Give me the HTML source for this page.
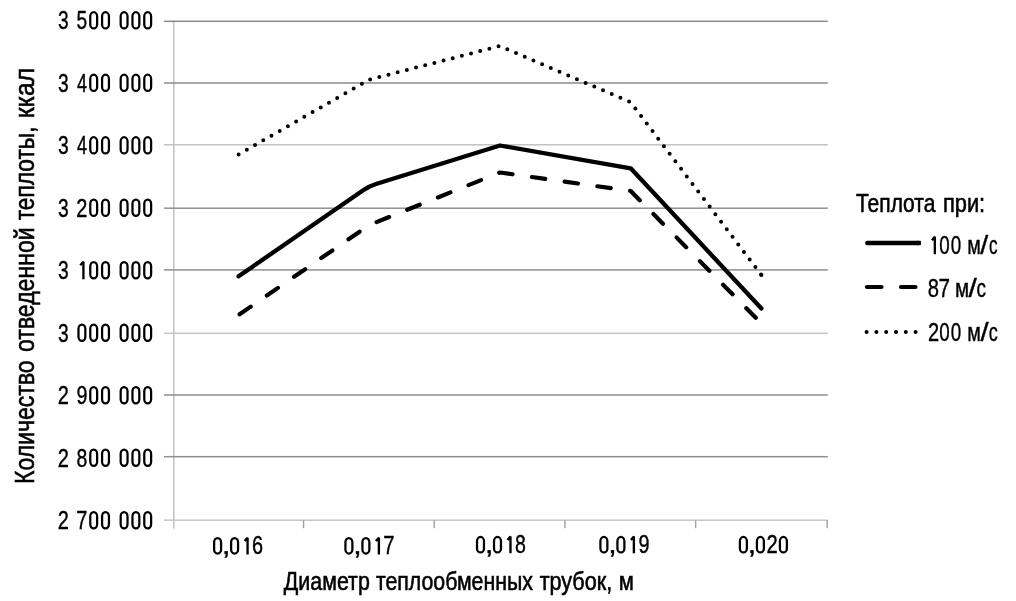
<!DOCTYPE html>
<html><head><meta charset="utf-8"><style>
html,body{margin:0;padding:0;background:#fff;}
svg{filter:grayscale(1);}
body{width:1016px;height:601px;overflow:hidden;}
svg{display:block;}
text{font-family:"Liberation Sans", sans-serif;fill:#000;stroke:#000;stroke-width:0.4px;vector-effect:non-scaling-stroke;white-space:pre;}
</style></head><body>
<svg width="1016" height="601" viewBox="0 0 1016 601">
<rect width="1016" height="601" fill="#fff"/>

<rect x="173.1" y="20.6" width="1.4" height="508" fill="#bdbdbd"/>
<rect x="164" y="20.55" width="663.8" height="1.5" fill="#8a8a8a"/>
<rect x="164" y="82.25" width="663.8" height="1.5" fill="#8c8c8c"/>
<rect x="164" y="144.05" width="663.8" height="1.5" fill="#c2c2c2"/>
<rect x="164" y="207.45" width="663.8" height="1.5" fill="#909090"/>
<rect x="164" y="269.15" width="663.8" height="1.5" fill="#8f8f8f"/>
<rect x="164" y="332.55" width="663.8" height="1.5" fill="#c4c4c4"/>
<rect x="164" y="394.25" width="663.8" height="1.5" fill="#8f8f8f"/>
<rect x="164" y="455.95" width="663.8" height="1.5" fill="#909090"/>
<rect x="164" y="519.45" width="663.8" height="1.5" fill="#c6c6c6"/>
<rect x="302.85" y="520.2" width="1.4" height="8" fill="#a0a0a0"/>
<rect x="433.55" y="520.2" width="1.4" height="8" fill="#a0a0a0"/>
<rect x="564.25" y="520.2" width="1.4" height="8" fill="#a0a0a0"/>
<rect x="694.95" y="520.2" width="1.4" height="8" fill="#a0a0a0"/>
<rect x="826.45" y="520.2" width="1.4" height="8" fill="#a0a0a0"/>
<polyline points="238.60,154.50 369.30,79.60 500.00,46.00 630.70,102.30 761.40,275.00" fill="none" stroke="#000" stroke-width="4" stroke-linecap="round" stroke-linejoin="round" stroke-dasharray="0 9.47"/>
<circle cx="761.40" cy="275.00" r="2"/>
<polyline points="238.60,315.00 369.30,225.00 500.00,172.50 630.70,191.00 761.40,323.50" fill="none" stroke="#000" stroke-width="4.2" stroke-linecap="round" stroke-linejoin="round" stroke-dasharray="13.5 19.55" stroke-dashoffset="-1.25"/>
<path d="M238.60,276.30 L363.54,189.98 Q369.30,186.00 375.99,183.93 L500.00,145.50 L630.70,168.30 L761.40,308.50" fill="none" stroke="#000" stroke-width="4.3" stroke-linecap="round" stroke-linejoin="round"/>
<line x1="867.3" y1="243" x2="918.6" y2="243" stroke="#000" stroke-width="4.4" stroke-linecap="round"/><rect x="917" y="240.8" width="3.8" height="4.4" fill="#000"/>
<line x1="867" y1="287" x2="919" y2="287" stroke="#000" stroke-width="4.2" stroke-linecap="round" stroke-dasharray="14.5 19.5"/>
<line x1="866.6" y1="332" x2="916" y2="332" stroke="#000" stroke-width="4" stroke-linecap="round" stroke-dasharray="0 9.8"/>
<text x="58.02" y="29.25" font-size="26.1" textLength="10.65" lengthAdjust="spacingAndGlyphs">3</text>
<text x="76.58" y="29.25" font-size="26.1" textLength="10.65" lengthAdjust="spacingAndGlyphs">5</text>
<rect x="90.27" y="12.20" width="6.85" height="16.23" rx="3.42" ry="4.02" fill="none" stroke="#000" stroke-width="2.25"/>
<rect x="102.08" y="12.20" width="6.85" height="16.23" rx="3.42" ry="4.02" fill="none" stroke="#000" stroke-width="2.25"/>
<rect x="120.67" y="12.20" width="6.85" height="16.23" rx="3.43" ry="4.03" fill="none" stroke="#000" stroke-width="2.25"/>
<rect x="132.47" y="12.20" width="6.85" height="16.23" rx="3.43" ry="4.03" fill="none" stroke="#000" stroke-width="2.25"/>
<rect x="144.27" y="12.20" width="6.85" height="16.23" rx="3.43" ry="4.03" fill="none" stroke="#000" stroke-width="2.25"/>
<text x="58.02" y="91.74" font-size="26.1" textLength="10.65" lengthAdjust="spacingAndGlyphs">3</text>
<text x="76.95" y="91.74" font-size="26.1" textLength="10.02" lengthAdjust="spacingAndGlyphs">4</text>
<rect x="90.27" y="74.69" width="6.85" height="16.23" rx="3.42" ry="4.02" fill="none" stroke="#000" stroke-width="2.25"/>
<rect x="102.08" y="74.69" width="6.85" height="16.23" rx="3.42" ry="4.02" fill="none" stroke="#000" stroke-width="2.25"/>
<rect x="120.67" y="74.69" width="6.85" height="16.23" rx="3.43" ry="4.03" fill="none" stroke="#000" stroke-width="2.25"/>
<rect x="132.47" y="74.69" width="6.85" height="16.23" rx="3.43" ry="4.03" fill="none" stroke="#000" stroke-width="2.25"/>
<rect x="144.27" y="74.69" width="6.85" height="16.23" rx="3.43" ry="4.03" fill="none" stroke="#000" stroke-width="2.25"/>
<text x="58.02" y="154.23" font-size="26.1" textLength="10.65" lengthAdjust="spacingAndGlyphs">3</text>
<text x="76.95" y="154.23" font-size="26.1" textLength="10.02" lengthAdjust="spacingAndGlyphs">4</text>
<rect x="90.27" y="137.18" width="6.85" height="16.23" rx="3.42" ry="4.02" fill="none" stroke="#000" stroke-width="2.25"/>
<rect x="102.08" y="137.18" width="6.85" height="16.23" rx="3.42" ry="4.02" fill="none" stroke="#000" stroke-width="2.25"/>
<rect x="120.67" y="137.18" width="6.85" height="16.23" rx="3.43" ry="4.03" fill="none" stroke="#000" stroke-width="2.25"/>
<rect x="132.47" y="137.18" width="6.85" height="16.23" rx="3.43" ry="4.03" fill="none" stroke="#000" stroke-width="2.25"/>
<rect x="144.27" y="137.18" width="6.85" height="16.23" rx="3.43" ry="4.03" fill="none" stroke="#000" stroke-width="2.25"/>
<text x="58.02" y="216.72" font-size="26.1" textLength="10.65" lengthAdjust="spacingAndGlyphs">3</text>
<text x="76.35" y="216.72" font-size="26.1" textLength="11.10" lengthAdjust="spacingAndGlyphs">2</text>
<rect x="90.27" y="199.67" width="6.85" height="16.23" rx="3.42" ry="4.02" fill="none" stroke="#000" stroke-width="2.25"/>
<rect x="102.08" y="199.67" width="6.85" height="16.23" rx="3.42" ry="4.02" fill="none" stroke="#000" stroke-width="2.25"/>
<rect x="120.67" y="199.67" width="6.85" height="16.23" rx="3.43" ry="4.03" fill="none" stroke="#000" stroke-width="2.25"/>
<rect x="132.47" y="199.67" width="6.85" height="16.23" rx="3.43" ry="4.03" fill="none" stroke="#000" stroke-width="2.25"/>
<rect x="144.27" y="199.67" width="6.85" height="16.23" rx="3.43" ry="4.03" fill="none" stroke="#000" stroke-width="2.25"/>
<text x="58.02" y="279.21" font-size="26.1" textLength="10.65" lengthAdjust="spacingAndGlyphs">3</text>
<polyline points="80.20,265.20 83.43,261.78 83.43,279.21" fill="none" stroke="#000" stroke-width="2.35" stroke-linejoin="bevel"/>
<rect x="90.27" y="262.16" width="6.85" height="16.23" rx="3.42" ry="4.02" fill="none" stroke="#000" stroke-width="2.25"/>
<rect x="102.08" y="262.16" width="6.85" height="16.23" rx="3.42" ry="4.02" fill="none" stroke="#000" stroke-width="2.25"/>
<rect x="120.67" y="262.16" width="6.85" height="16.23" rx="3.43" ry="4.03" fill="none" stroke="#000" stroke-width="2.25"/>
<rect x="132.47" y="262.16" width="6.85" height="16.23" rx="3.43" ry="4.03" fill="none" stroke="#000" stroke-width="2.25"/>
<rect x="144.27" y="262.16" width="6.85" height="16.23" rx="3.43" ry="4.03" fill="none" stroke="#000" stroke-width="2.25"/>
<text x="58.02" y="341.70" font-size="26.1" textLength="10.65" lengthAdjust="spacingAndGlyphs">3</text>
<rect x="78.48" y="324.65" width="6.85" height="16.23" rx="3.42" ry="4.02" fill="none" stroke="#000" stroke-width="2.25"/>
<rect x="90.27" y="324.65" width="6.85" height="16.23" rx="3.42" ry="4.02" fill="none" stroke="#000" stroke-width="2.25"/>
<rect x="102.08" y="324.65" width="6.85" height="16.23" rx="3.42" ry="4.02" fill="none" stroke="#000" stroke-width="2.25"/>
<rect x="120.67" y="324.65" width="6.85" height="16.23" rx="3.43" ry="4.03" fill="none" stroke="#000" stroke-width="2.25"/>
<rect x="132.47" y="324.65" width="6.85" height="16.23" rx="3.43" ry="4.03" fill="none" stroke="#000" stroke-width="2.25"/>
<rect x="144.27" y="324.65" width="6.85" height="16.23" rx="3.43" ry="4.03" fill="none" stroke="#000" stroke-width="2.25"/>
<text x="57.75" y="404.19" font-size="26.1" textLength="11.10" lengthAdjust="spacingAndGlyphs">2</text>
<text x="76.45" y="404.19" font-size="26.1" textLength="10.93" lengthAdjust="spacingAndGlyphs">9</text>
<rect x="90.27" y="387.14" width="6.85" height="16.23" rx="3.42" ry="4.02" fill="none" stroke="#000" stroke-width="2.25"/>
<rect x="102.08" y="387.14" width="6.85" height="16.23" rx="3.42" ry="4.02" fill="none" stroke="#000" stroke-width="2.25"/>
<rect x="120.67" y="387.14" width="6.85" height="16.23" rx="3.43" ry="4.03" fill="none" stroke="#000" stroke-width="2.25"/>
<rect x="132.47" y="387.14" width="6.85" height="16.23" rx="3.43" ry="4.03" fill="none" stroke="#000" stroke-width="2.25"/>
<rect x="144.27" y="387.14" width="6.85" height="16.23" rx="3.43" ry="4.03" fill="none" stroke="#000" stroke-width="2.25"/>
<text x="57.75" y="466.68" font-size="26.1" textLength="11.10" lengthAdjust="spacingAndGlyphs">2</text>
<text x="76.52" y="466.68" font-size="26.1" textLength="10.77" lengthAdjust="spacingAndGlyphs">8</text>
<rect x="90.27" y="449.63" width="6.85" height="16.23" rx="3.42" ry="4.02" fill="none" stroke="#000" stroke-width="2.25"/>
<rect x="102.08" y="449.63" width="6.85" height="16.23" rx="3.42" ry="4.02" fill="none" stroke="#000" stroke-width="2.25"/>
<rect x="120.67" y="449.63" width="6.85" height="16.23" rx="3.43" ry="4.03" fill="none" stroke="#000" stroke-width="2.25"/>
<rect x="132.47" y="449.63" width="6.85" height="16.23" rx="3.43" ry="4.03" fill="none" stroke="#000" stroke-width="2.25"/>
<rect x="144.27" y="449.63" width="6.85" height="16.23" rx="3.43" ry="4.03" fill="none" stroke="#000" stroke-width="2.25"/>
<text x="57.75" y="529.17" font-size="26.1" textLength="11.10" lengthAdjust="spacingAndGlyphs">2</text>
<text x="76.33" y="529.17" font-size="26.1" textLength="11.12" lengthAdjust="spacingAndGlyphs">7</text>
<rect x="90.27" y="512.12" width="6.85" height="16.23" rx="3.42" ry="4.02" fill="none" stroke="#000" stroke-width="2.25"/>
<rect x="102.08" y="512.12" width="6.85" height="16.23" rx="3.42" ry="4.02" fill="none" stroke="#000" stroke-width="2.25"/>
<rect x="120.67" y="512.12" width="6.85" height="16.23" rx="3.43" ry="4.03" fill="none" stroke="#000" stroke-width="2.25"/>
<rect x="132.47" y="512.12" width="6.85" height="16.23" rx="3.43" ry="4.03" fill="none" stroke="#000" stroke-width="2.25"/>
<rect x="144.27" y="512.12" width="6.85" height="16.23" rx="3.43" ry="4.03" fill="none" stroke="#000" stroke-width="2.25"/>
<rect x="214.12" y="538.05" width="6.95" height="15.52" rx="3.47" ry="4.07" fill="none" stroke="#000" stroke-width="2.25"/>
<text x="222.00" y="554.40" font-size="25.1" textLength="8.42" lengthAdjust="spacingAndGlyphs">,</text>
<rect x="231.12" y="538.05" width="6.95" height="15.52" rx="3.47" ry="4.07" fill="none" stroke="#000" stroke-width="2.25"/>
<polyline points="244.65,541.08 247.57,537.66 247.57,554.40" fill="none" stroke="#000" stroke-width="2.35" stroke-linejoin="bevel"/>
<text x="252.01" y="554.40" font-size="25.1" textLength="11.05" lengthAdjust="spacingAndGlyphs">6</text>
<rect x="345.42" y="538.05" width="6.95" height="15.52" rx="3.48" ry="4.08" fill="none" stroke="#000" stroke-width="2.25"/>
<text x="353.30" y="554.40" font-size="25.1" textLength="8.42" lengthAdjust="spacingAndGlyphs">,</text>
<rect x="362.42" y="538.05" width="6.95" height="15.52" rx="3.48" ry="4.08" fill="none" stroke="#000" stroke-width="2.25"/>
<polyline points="375.95,541.08 378.88,537.66 378.88,554.40" fill="none" stroke="#000" stroke-width="2.35" stroke-linejoin="bevel"/>
<text x="383.27" y="554.40" font-size="25.1" textLength="11.25" lengthAdjust="spacingAndGlyphs">7</text>
<rect x="477.02" y="536.95" width="6.95" height="15.52" rx="3.48" ry="4.08" fill="none" stroke="#000" stroke-width="2.25"/>
<text x="484.90" y="553.30" font-size="25.1" textLength="8.42" lengthAdjust="spacingAndGlyphs">,</text>
<rect x="494.02" y="536.95" width="6.95" height="15.52" rx="3.48" ry="4.08" fill="none" stroke="#000" stroke-width="2.25"/>
<polyline points="507.55,539.98 510.48,536.56 510.48,553.30" fill="none" stroke="#000" stroke-width="2.35" stroke-linejoin="bevel"/>
<text x="515.06" y="553.30" font-size="25.1" textLength="10.89" lengthAdjust="spacingAndGlyphs">8</text>
<rect x="600.42" y="536.95" width="6.95" height="15.52" rx="3.48" ry="4.08" fill="none" stroke="#000" stroke-width="2.25"/>
<text x="608.30" y="553.30" font-size="25.1" textLength="8.42" lengthAdjust="spacingAndGlyphs">,</text>
<rect x="617.42" y="536.95" width="6.95" height="15.52" rx="3.48" ry="4.08" fill="none" stroke="#000" stroke-width="2.25"/>
<polyline points="630.95,539.98 633.88,536.56 633.88,553.30" fill="none" stroke="#000" stroke-width="2.35" stroke-linejoin="bevel"/>
<text x="638.39" y="553.30" font-size="25.1" textLength="11.05" lengthAdjust="spacingAndGlyphs">9</text>
<rect x="739.92" y="536.95" width="6.95" height="15.52" rx="3.48" ry="4.08" fill="none" stroke="#000" stroke-width="2.25"/>
<text x="747.80" y="553.30" font-size="25.1" textLength="8.42" lengthAdjust="spacingAndGlyphs">,</text>
<rect x="756.92" y="536.95" width="6.95" height="15.52" rx="3.48" ry="4.08" fill="none" stroke="#000" stroke-width="2.25"/>
<text x="766.39" y="553.30" font-size="25.1" textLength="11.22" lengthAdjust="spacingAndGlyphs">2</text>
<rect x="779.92" y="536.95" width="6.95" height="15.52" rx="3.48" ry="4.08" fill="none" stroke="#000" stroke-width="2.25"/>
<polyline points="931.90,240.22 934.83,236.80 934.83,254.30" fill="none" stroke="#000" stroke-width="2.35" stroke-linejoin="bevel"/>
<text x="939.27" y="254.30" font-size="26.2" textLength="10.45" lengthAdjust="spacingAndGlyphs">0</text>
<text x="950.67" y="254.30" font-size="26.2" textLength="10.45" lengthAdjust="spacingAndGlyphs">0</text>
<text x="967.33" y="254.30" font-size="26.2" textLength="13.62" lengthAdjust="spacingAndGlyphs">м</text>
<text x="980.30" y="254.30" font-size="26.2" textLength="7.90" lengthAdjust="spacingAndGlyphs">/</text>
<text x="988.88" y="254.30" font-size="26.2" textLength="8.56" lengthAdjust="spacingAndGlyphs">с</text>
<text x="927.63" y="297.30" font-size="26.0" textLength="11.24" lengthAdjust="spacingAndGlyphs">8</text>
<text x="938.55" y="297.30" font-size="26.0" textLength="11.49" lengthAdjust="spacingAndGlyphs">7</text>
<text x="955.08" y="297.30" font-size="26.0" textLength="14.12" lengthAdjust="spacingAndGlyphs">м</text>
<text x="968.50" y="297.30" font-size="26.0" textLength="8.29" lengthAdjust="spacingAndGlyphs">/</text>
<text x="976.60" y="297.30" font-size="26.0" textLength="9.49" lengthAdjust="spacingAndGlyphs">с</text>
<text x="927.90" y="340.50" font-size="26.0" textLength="11.10" lengthAdjust="spacingAndGlyphs">2</text>
<text x="939.27" y="340.50" font-size="26.0" textLength="10.45" lengthAdjust="spacingAndGlyphs">0</text>
<text x="950.67" y="340.50" font-size="26.0" textLength="10.45" lengthAdjust="spacingAndGlyphs">0</text>
<text x="967.33" y="340.50" font-size="26.0" textLength="13.62" lengthAdjust="spacingAndGlyphs">м</text>
<text x="980.40" y="340.50" font-size="26.0" textLength="8.09" lengthAdjust="spacingAndGlyphs">/</text>
<text x="988.84" y="340.50" font-size="26.0" textLength="9.03" lengthAdjust="spacingAndGlyphs">с</text>
<text x="855.94" y="211.80" font-size="26.6" textLength="79.45" lengthAdjust="spacingAndGlyphs" style="stroke-width:0.6px">Теплота</text>
<text x="942.99" y="211.80" font-size="26.6" textLength="42.19" lengthAdjust="spacingAndGlyphs" style="stroke-width:0.6px">при:</text>
<text x="283.85" y="589.70" font-size="26.3" textLength="85.94" lengthAdjust="spacingAndGlyphs" style="stroke-width:0.6px">Диаметр</text>
<text x="375.94" y="589.70" font-size="26.3" textLength="157.03" lengthAdjust="spacingAndGlyphs" style="stroke-width:0.6px">теплообменных</text>
<text x="539.63" y="589.70" font-size="26.3" textLength="72.55" lengthAdjust="spacingAndGlyphs" style="stroke-width:0.6px">трубок,</text>
<text x="618.78" y="589.70" font-size="26.3" textLength="15.13" lengthAdjust="spacingAndGlyphs" style="stroke-width:0.6px">м</text>
<text x="-483.89" y="33.80" font-size="28.0" textLength="123.53" lengthAdjust="spacingAndGlyphs" transform="rotate(-90)" style="stroke-width:0.6px">Количество</text>
<text x="-351.97" y="33.80" font-size="28.0" textLength="124.54" lengthAdjust="spacingAndGlyphs" transform="rotate(-90)" style="stroke-width:0.6px">отведенной</text>
<text x="-220.29" y="33.80" font-size="28.0" textLength="93.73" lengthAdjust="spacingAndGlyphs" transform="rotate(-90)" style="stroke-width:0.6px">теплоты,</text>
<text x="-118.25" y="33.80" font-size="28.0" textLength="50.30" lengthAdjust="spacingAndGlyphs" transform="rotate(-90)" style="stroke-width:0.6px">ккал</text>
</svg></body></html>
